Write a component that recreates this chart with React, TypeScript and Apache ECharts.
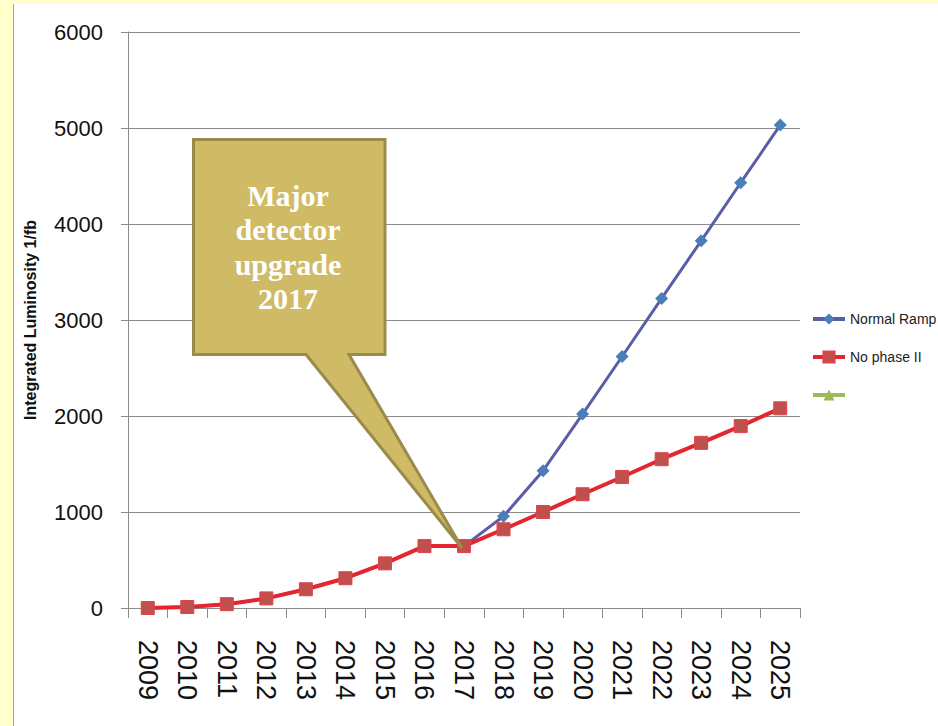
import React, { useEffect, useRef } from "react";
import * as echarts from "echarts";

const years = ["2009","2010","2011","2012","2013","2014","2015","2016","2017","2018","2019","2020","2021","2022","2023","2024","2025"];
const normalRamp = [0, 10, 40, 100, 195, 310, 465, 645, 645, 955, 1430, 2020, 2620, 3225, 3825, 4430, 5030];
const noPhaseII = [0, 10, 40, 100, 195, 310, 465, 645, 645, 820, 1000, 1185, 1365, 1550, 1720, 1895, 2080];
const thirdSeries: number[] = [];
const seriesNames = ["Normal Ramp", "No phase II", " "];
const yAxisName = "Integrated Luminosity 1/fb";
const calloutText = "Major\ndetector\nupgrade\n2017";

export default function App() {
  const ref = useRef<HTMLDivElement>(null);
  useEffect(() => {
    document.body.style.margin = "0";
    if (!ref.current) return;
    const chart = echarts.init(ref.current, null, { renderer: "svg" });
    const axisGray = "#8a8a8a";
    chart.setOption({
      animation: false,
      grid: { left: 128, right: 138, top: 32, bottom: 118, containLabel: false },
      legend: {
        orient: "vertical",
        left: 811,
        top: 312,
        padding: 0,
        itemWidth: 32,
        itemHeight: 14,
        itemGap: 24,
        lineStyle: { width: 4 },
        textStyle: { fontSize: 14, fontFamily: "Liberation Sans", color: "#222" },
        data: seriesNames,
      },
      xAxis: {
        type: "category",
        data: years,
        boundaryGap: true,
        axisLine: { show: true, lineStyle: { color: axisGray, width: 1 } },
        axisTick: { show: true, length: 10, lineStyle: { color: axisGray } },
        axisLabel: { rotate: -90, fontSize: 27, margin: 32, color: "#111", fontFamily: "Liberation Sans" },
        splitLine: { show: false },
      },
      yAxis: {
        type: "value",
        min: 0,
        max: 6000,
        interval: 1000,
        name: yAxisName,
        nameLocation: "middle",
        nameRotate: 90,
        nameGap: 90,
        nameTextStyle: { fontSize: 16, fontWeight: "bold", fontFamily: "Liberation Sans", color: "#111" },
        axisLine: { show: true, lineStyle: { color: axisGray, width: 1 } },
        axisTick: { show: true, length: 7, lineStyle: { color: axisGray } },
        axisLabel: {
          fontSize: 22,
          margin: 25,
          color: "#111",
          fontFamily: "Liberation Sans",
          formatter: (v: number) => String(v),
        },
        splitLine: { show: true, lineStyle: { color: axisGray, width: 1 } },
      },
      series: [
        {
          name: seriesNames[0],
          type: "line",
          data: normalRamp,
          symbol: "diamond",
          symbolSize: 13,
          lineStyle: { color: "#5A5EA6", width: 3 },
          itemStyle: { color: "#4A7EBB", borderColor: "#4A7EBB", borderWidth: 0 },
          z: 2,
        },
        {
          name: seriesNames[1],
          type: "line",
          data: noPhaseII,
          symbol: "rect",
          symbolSize: 13,
          lineStyle: { color: "#E4262E", width: 4 },
          itemStyle: { color: "#C0504D", borderColor: "#E2424A", borderWidth: 1 },
          z: 3,
        },
        {
          name: seriesNames[2],
          type: "line",
          data: thirdSeries,
          symbol: "triangle",
          symbolSize: 13,
          lineStyle: { color: "#9BBB59", width: 3 },
          itemStyle: { color: "#9BBB59" },
        },
      ],
      graphic: [
        {
          type: "polygon",
          z: 100,
          shape: {
            points: [
              [193.5, 139.5], [385, 139.5], [385, 354.5], [349, 354.5],
              [462, 548], [306, 354.5], [193.5, 354.5],
            ],
          },
          style: { fill: "#CFBA66", stroke: "#9B8B4B", lineWidth: 3, lineJoin: "miter" },
        },
        {
          type: "text",
          z: 101,
          x: 288,
          y: 247,
          style: {
            text: calloutText,
            fill: "#ffffff",
            font: "bold 30px 'Liberation Serif'",
            lineHeight: 34.5,
            align: "center",
            verticalAlign: "middle",
          },
        },
      ],
    });
    return () => chart.dispose();
  }, []);
  return (
    <div style={{ position: "fixed", left: 0, top: 0, width: 938, height: 726, background: "#FFFFCC", overflow: "hidden" }}>
      <div style={{ position: "absolute", left: 13, top: 4, right: 0, bottom: 0, background: "#ffffff", borderLeft: "1px solid #A8A48A" }} />
      <div ref={ref} style={{ position: "absolute", left: 0, top: 0, width: 938, height: 726 }} />
    </div>
  );
}
